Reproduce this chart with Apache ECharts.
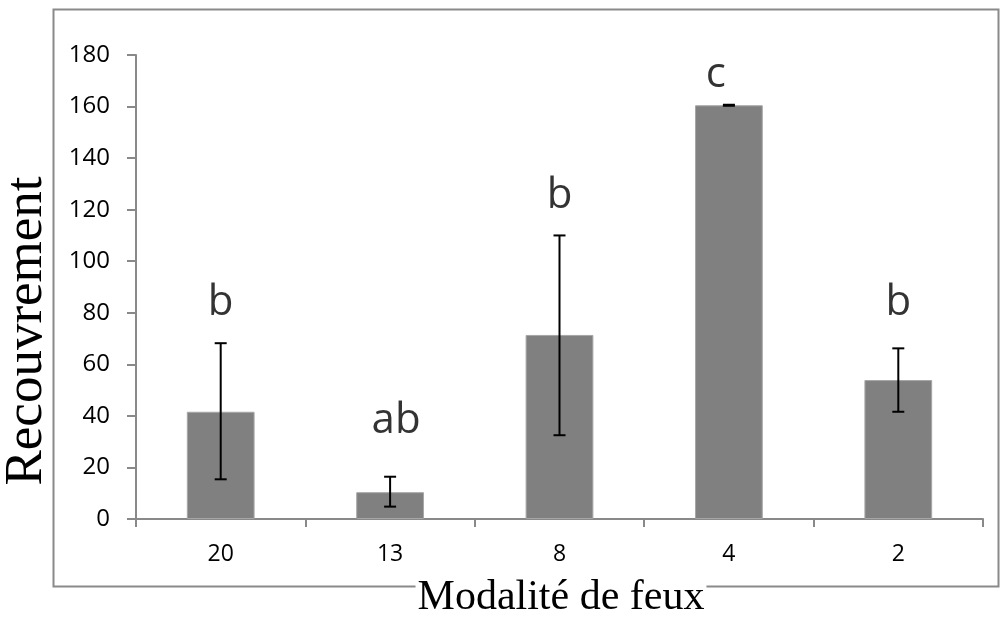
<!DOCTYPE html>
<html>
<head>
<meta charset="utf-8">
<script src="https://cdn.jsdelivr.net/npm/echarts@6/dist/echarts.min.js"></script>
<style>
html,body{margin:0;padding:0;background:#fff;}
#chart{width:1000px;height:617px;}
</style>
</head>
<body>
<div id="chart"></div>
<script>
const categories = ['20', '13', '8', '4', '2'];
const means = [41.6, 10.4, 71.4, 160.5, 53.9];
const errLow = [15.4, 4.8, 32.5, 160.3, 41.6];
const errHigh = [68.2, 16.4, 110.0, 160.7, 66.2];
const letters = ['b', 'ab', 'b', 'c', 'b'];
const letterBase = [79, 33.2, 120.8, 167.5, 79];
const yTicks = [0, 20, 40, 60, 80, 100, 120, 140, 160, 180];
const xTitle = 'Modalité de feux';
const yTitle = 'Recouvrement';

const chart = echarts.init(document.getElementById('chart'), null, {renderer: 'canvas'});
const axisColor = '#898989';
const option = {
  animation: false,
  backgroundColor: '#fff',
  grid: {left: 136, right: 17, top: 55, bottom: 98},
  graphic: [
    {
      type: 'rect', z: -10,
      shape: {x: 53.5, y: 9.5, width: 945, height: 577},
      style: {fill: 'none', stroke: '#8a8a8a', lineWidth: 2}
    },
    {
      type: 'text', z: 10,
      x: 561, y: 598,
      style: {
        text: xTitle, fontFamily: 'Liberation Serif', fontSize: 42, fill: '#000',
        align: 'center', verticalAlign: 'middle', backgroundColor: '#fff', padding: [0, 2]
      }
    },
    {
      type: 'text', z: 10,
      x: 27, y: 331, rotation: Math.PI / 2,
      style: {
        text: yTitle, fontFamily: 'Liberation Serif', fontSize: 53, fill: '#000',
        align: 'center', verticalAlign: 'middle'
      }
    }
  ],
  xAxis: {
    type: 'category',
    data: categories,
    axisLine: {lineStyle: {color: axisColor, width: 2}},
    axisTick: {show: true, length: 8, lineStyle: {color: axisColor, width: 2}},
    axisLabel: {color: '#000', fontFamily: 'Open Sans', fontSize: 23, margin: 24}
  },
  yAxis: {
    type: 'value',
    min: yTicks[0], max: yTicks[yTicks.length - 1], interval: 20,
    splitLine: {show: false},
    axisLine: {show: true, lineStyle: {color: axisColor, width: 2}},
    axisTick: {show: true, length: 9, lineStyle: {color: axisColor, width: 2}},
    axisLabel: {color: '#000', fontFamily: 'Open Sans', fontSize: 24, margin: 26}
  },
  series: [
    {
      type: 'bar',
      data: means,
      barWidth: '40%',
      itemStyle: {color: '#808080', borderColor: '#a6a6a6', borderWidth: 1}
    },
    {
      type: 'custom',
      data: categories.map((c, i) => [i, errLow[i], errHigh[i]]),
      z: 5,
      renderItem: function (params, api) {
        const i = api.value(0);
        const lo = api.coord([i, api.value(1)]);
        const hi = api.coord([i, api.value(2)]);
        const hw = 6;
        const st = {stroke: '#000', lineWidth: 2};
        return {
          type: 'group',
          children: [
            {type: 'line', shape: {x1: lo[0], y1: lo[1], x2: hi[0], y2: hi[1]}, style: st},
            {type: 'line', shape: {x1: lo[0] - hw, y1: lo[1], x2: lo[0] + hw, y2: lo[1]}, style: st},
            {type: 'line', shape: {x1: hi[0] - hw, y1: hi[1], x2: hi[0] + hw, y2: hi[1]}, style: st}
          ]
        };
      }
    },
    {
      type: 'scatter',
      symbolSize: 0,
      data: categories.map((c, i) => ({
        value: [i, letterBase[i]],
        label: {formatter: letters[i], offset: [i === 3 ? -13 : (i === 1 ? 6 : 0), 9]}
      })),
      label: {
        show: true, position: 'inside', color: '#000',
        fontFamily: 'Open Sans', fontSize: 42,
        verticalAlign: 'bottom', align: 'center'
      },
      silent: true
    }
  ]
};
chart.setOption(option);
</script>
</body>
</html>
